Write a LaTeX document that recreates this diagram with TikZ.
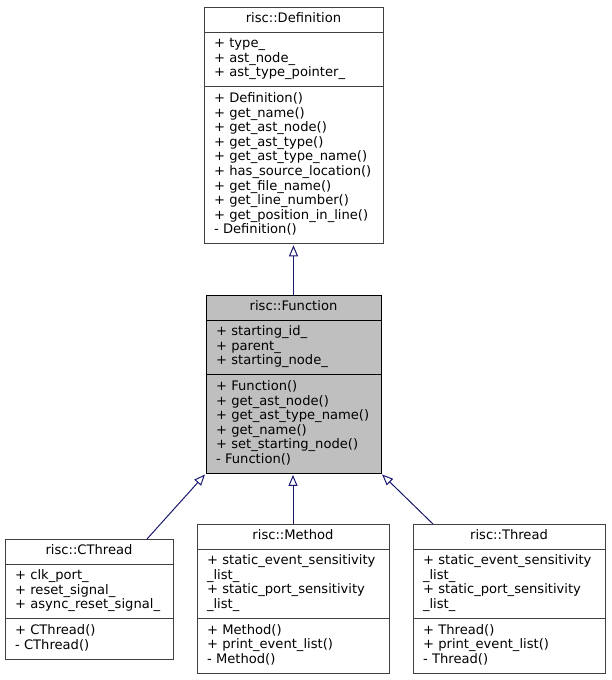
\documentclass[tikz,border=0pt]{standalone}
\usepackage{fontspec}
\setmainfont{DejaVu Sans}
\usetikzlibrary{positioning, arrows.meta, calc}
\definecolor{edgeblue}{RGB}{25,25,112}
\tikzset{%
	classpart/.style={draw=black!75, line width=1pt, rectangle, outer sep=0pt,
		inner xsep=10pt, inner ysep=5.5pt, text width=#1,%
		font=\fontsize{13.1}{14.6}\selectfont,
		execute at begin node=\strut, execute at end node=\strut},
	classhead/.style={classpart=#1, align=center, inner ysep=5.2pt},
	classbody/.style={classpart=#1, align=left},
	focus/.style={fill=black!25, draw=black},
	derived/.style={draw=edgeblue, line width=1pt,
		-{Triangle[open, length=11pt, width=9pt]}, shorten >=1.5pt}
}
\begin{document}
\begin{tikzpicture}[x=1pt, y=-1pt]
	\useasboundingbox (0,0) rectangle (611,680);

	% base class
	\node[classhead=159pt, anchor=north west] (defHead) at (204,7) {risc::Definition};
	\node[classbody=159pt, below=0pt of defHead] (defAttr)
		{+ type\_\\+ ast\_node\_\\+ ast\_type\_pointer\_};
	\node[classbody=159pt, below=0pt of defAttr] (defMeth)
		{+ Definition()\\+ get\_name()\\+ get\_ast\_node()\\+ get\_ast\_type()\\%
		+ get\_ast\_type\_name()\\+ has\_source\_location()\\+ get\_file\_name()\\%
		+ get\_line\_number()\\+ get\_position\_in\_line()\\- Definition()};

	% focus class
	\node[classhead=155pt, focus, anchor=north west] (funcHead) at (206,295) {risc::Function};
	\node[classbody=155pt, focus, below=0pt of funcHead] (funcAttr)
		{+ starting\_id\_\\+ parent\_\\+ starting\_node\_};
	\node[classbody=155pt, focus, below=0pt of funcAttr] (funcMeth)
		{+ Function()\\+ get\_ast\_node()\\+ get\_ast\_type\_name()\\+ get\_name()\\%
		+ set\_starting\_node()\\- Function()};

	% derived classes
	\node[classhead=148pt, anchor=north west] (ctHead) at (5,539) {risc::CThread};
	\node[classbody=148pt, below=0pt of ctHead] (ctAttr)
		{+ clk\_port\_\\+ reset\_signal\_\\+ async\_reset\_signal\_};
	\node[classbody=148pt, below=0pt of ctAttr] (ctMeth)
		{+ CThread()\\- CThread()};

	\node[classhead=172pt, anchor=north west] (methHead) at (197,524) {risc::Method};
	\node[classbody=172pt, below=0pt of methHead] (methAttr)
		{+ static\_event\_sensitivity\\\_list\_\\+ static\_port\_sensitivity\\\_list\_};
	\node[classbody=172pt, below=0pt of methAttr] (methMeth)
		{+ Method()\\+ print\_event\_list()\\- Method()};

	\node[classhead=172pt, anchor=north west] (thrHead) at (413,524) {risc::Thread};
	\node[classbody=172pt, below=0pt of thrHead] (thrAttr)
		{+ static\_event\_sensitivity\\\_list\_\\+ static\_port\_sensitivity\\\_list\_};
	\node[classbody=172pt, below=0pt of thrAttr] (thrMeth)
		{+ Thread()\\+ print\_event\_list()\\- Thread()};

	\draw[derived] (funcHead.north) to (defMeth.south);
	\draw[derived] ($(ctHead.north east)+(-26,0)$) to (funcMeth.south west);
	\draw[derived] (methHead.north) to (methHead.north |- funcMeth.south);
	\draw[derived] ($(thrHead.north west)+(20,0)$) to (funcMeth.south east);
\end{tikzpicture}
\end{document}
